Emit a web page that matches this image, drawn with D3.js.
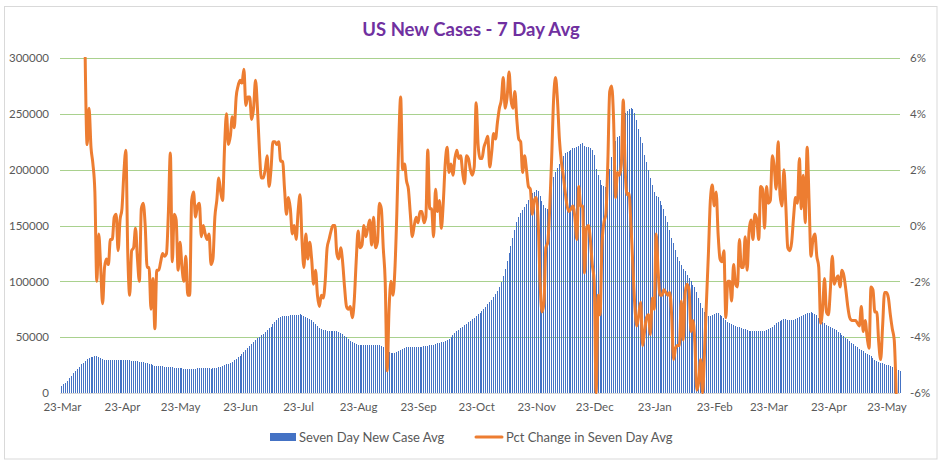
<!DOCTYPE html>
<html><head><meta charset="utf-8">
<script src="https://cdn.jsdelivr.net/npm/d3@7"></script>
<style>
body{margin:0;background:#fff;}
text{font-family:Lato,"Open Sans",sans-serif;}
</style></head>
<body><svg id="c" width="946" height="466"></svg>
<script>
const title = "US New Cases - 7 Day Avg";
const seriesNames = ["Seven Day New Case Avg", "Pct Change in Seven Day Avg"];
const startDate = "2020-03-23";
const endDate = "2021-05-31"; // exclusive
const leftTicks = [0, 50000, 100000, 150000, 200000, 250000, 300000];
const rightTicks = [-6, -4, -2, 0, 2, 4, 6];
const xTickLabels = ["23-Mar","23-Apr","23-May","23-Jun","23-Jul","23-Aug","23-Sep","23-Oct","23-Nov","23-Dec","23-Jan","23-Feb","23-Mar","23-Apr","23-May"];
const xTickDates = ["2020-03-23","2020-04-23","2020-05-23","2020-06-23","2020-07-23","2020-08-23","2020-09-23","2020-10-23","2020-11-23","2020-12-23","2021-01-23","2021-02-23","2021-03-23","2021-04-23","2021-05-23"];

// Seven day new case average, one value per day from 23-Mar-2020
const sevenDayAvg = [
6400,7800,9300,11000,13000,15200,17500,19700,21800,23700,
25600,27300,28800,30100,31100,31900,32600,33000,32900,32400,
31700,30600,29800,29500,29400,29400,29400,29400,29500,29600,
29800,29900,29900,29700,29400,29200,29000,28900,28800,28600,
28200,27900,27600,27300,26900,26300,25600,25000,24500,24200,
24000,23900,23800,23600,23300,23100,23000,22900,22800,22700,
22600,22400,22200,21900,21700,21600,21500,21500,21600,21900,
22300,22500,22400,22200,22100,22000,22000,21900,22000,22200,
22500,23000,23600,24300,25000,25600,26300,27200,28200,29300,
30500,31800,33000,34800,36800,38800,40500,42200,44000,45800,
47500,49000,50400,51800,52800,54200,56300,58000,59200,61500,
63800,65800,67500,68500,69000,69000,69200,69400,69700,69800,
69800,70000,70200,70600,70200,69000,68000,67200,66200,65200,
63800,62200,60300,58300,57200,56400,56000,55700,55500,55500,
55500,55500,55300,54800,53900,52700,51300,49900,48500,47000,
45600,44600,43800,43300,43100,43000,43000,43000,42900,42900,
43000,43000,42900,42900,42800,42200,41000,39500,37700,36300,
35800,35500,35800,36600,37800,38800,39700,40400,40900,41200,
41400,41500,41500,41500,41500,41500,41600,41700,41900,42200,
42600,43000,43400,43900,44400,44900,45400,46000,46600,47600,
48800,50000,51800,53600,55500,56500,57800,59000,60500,62000,
63200,64500,66000,67500,69000,70800,72000,73200,75000,77300,
79700,81300,83200,85800,88300,91500,94500,99000,104500,111000,
118000,125500,132000,138500,146000,153000,158000,161000,164000,166300,
169500,172500,176000,178700,180300,181800,181000,176500,172000,168000,
166000,164500,170000,184000,193500,197500,201500,205000,209000,212500,
214500,216000,217000,218000,219000,219500,220000,221300,223000,224100,
221500,220000,220000,219500,217600,213500,200500,195000,191000,186500,
185000,184500,193000,201000,211000,220000,225500,229000,230000,237000,
246000,250500,252700,254000,255000,254500,251000,244500,236000,229500,
223600,213000,206500,199500,192200,186000,180300,176500,175200,172000,
168300,165000,158500,153500,146000,139000,134000,128000,122000,118200,
114500,111000,109000,105500,103000,100500,97000,95000,90700,84800,
80300,75800,72800,71300,69000,69000,69700,70700,71300,71300,
69800,69000,67300,65600,64000,63000,62000,61000,60200,59500,
58800,58200,57500,57000,56300,55800,55500,55500,55500,55500,
55500,55500,55500,55500,56200,57000,57800,58800,60500,62500,
63500,64500,65300,66000,66000,65500,65400,65400,65600,66500,
67500,68300,69000,69700,70300,71200,72000,72300,71500,70800,
70000,67500,65500,63800,62500,61300,60200,59000,58000,57000,
56000,55000,53500,52000,51000,49500,48000,46500,45000,43500,
42200,41000,39700,38400,37200,36000,35000,34000,33000,31500,
30000,28700,27700,27000,26500,26000,25500,25000,24400,23600,
22700,21700,20500,19500
];

// Percent change in seven day average (%), same days; null where not plotted
const pctChange = [
null,null,null,null,null,null,null,null,null,null,null,null,
6.0,2.9,4.2,2.8,2.2,1.2,-2.0,-0.3,-1.5,-2.8,
-1.5,-1.2,-1.4,-0.5,-0.5,0.3,0.4,-0.9,0.2,0.6,
1.9,2.7,-1.0,-2.5,-0.9,-0.8,-0.1,-1.2,-2.0,0.6,
0.8,0.0,-1.5,-1.5,-3.0,-1.9,-3.7,-1.6,-1.6,-1.3,
-1.0,-1.1,-1.0,0.5,2.6,-1.3,0.4,0.2,-1.6,-0.6,
-1.5,-2.0,-1.1,-2.5,-2.5,0.9,1.2,0.3,0.7,0.8,
-0.4,0.0,-0.3,-0.5,-0.3,-1.4,-1.2,0.3,0.9,1.7,
1.2,0.9,2.8,4.0,2.9,3.2,3.9,3.5,4.6,5.0,
5.2,5.1,5.6,4.3,4.6,4.6,3.8,4.2,5.2,4.2,
2.7,1.7,1.7,2.0,2.5,1.4,2.0,3.0,3.0,2.9,
3.0,2.3,2.3,1.3,0.4,1.0,0.6,-0.3,0.0,-0.5,
0.5,1.1,-0.5,-1.5,-0.3,-1.2,-0.6,-1.2,-2.1,-1.6,
-2.5,-2.9,-2.5,-2.6,-2.0,-0.8,-0.5,-0.2,0.0,0.0,
-1.0,-1.2,-0.8,-1.3,-2.2,-2.9,-3.0,-2.9,-3.3,-2.7,
-1.3,-0.2,-0.8,-0.7,0.0,-0.4,-0.1,0.2,-0.7,0.3,
-0.8,-0.6,0.8,0.6,-0.8,-2.0,-5.2,-3.0,-2.0,-2.5,
-1.6,0.4,3.0,4.6,2.0,2.2,1.6,1.3,0.4,-0.4,
0.0,0.3,0.1,0.5,0.5,0.1,0.3,2.7,0.6,0.6,
-0.4,1.3,0.5,0.9,-0.1,0.8,2.2,2.8,1.9,2.2,
1.8,2.4,2.7,2.4,2.5,1.9,1.5,2.5,2.4,2.0,
1.8,2.1,4.4,2.9,2.4,2.4,2.8,3.0,3.2,2.1,
2.6,3.3,3.1,3.7,4.2,4.5,5.3,4.2,4.6,5.5,
4.5,4.2,4.8,3.8,3.1,3.0,1.9,2.5,2.0,1.4,
1.3,0.4,0.9,1.0,0.2,-2.0,-3.1,-2.8,-0.8,-0.6,
0.6,2.4,4.5,5.3,4.5,3.1,2.3,1.8,1.2,0.7,
0.5,0.6,0.7,0.3,-0.5,1.4,0.7,0.7,-1.7,-0.1,
0.0,-0.5,-1.4,-2.0,-6.0,-2.5,-3.2,-0.7,0.1,0.4,
2.2,4.8,5.0,3.8,1.0,1.9,1.8,2.2,4.5,2.0,
1.1,1.15,0.0,-1.5,-2.9,-3.6,-3.2,-2.75,-4.3,-3.8,
-3.3,-3.2,-3.9,-2.6,-3.0,-0.3,-1.6,-2.5,-2.5,-2.3,
-2.4,-2.5,-2.4,-3.2,-4.8,-4.4,-4.3,-4.3,-2.7,-4.1,
-2.4,-2.1,-2.3,-3.8,-3.4,-4.2,-5.9,-5.6,-4.8,-6.0,
-4.5,-2.7,-1.0,0.9,1.45,0.7,1.2,-0.3,-1.2,-1.3,
-0.9,-3.3,-2.0,-2.0,-2.7,-1.4,-2.1,-2.2,-0.5,-1.5,
-1.5,-0.4,-1.6,-0.2,0.2,-0.5,0.4,0.2,-0.5,1.4,
1.3,-0.1,1.4,0.8,0.9,2.5,2.1,1.3,3.0,1.1,
0.7,2.0,0.7,-0.8,-0.9,-0.6,0.3,1.0,0.8,2.4,
0.6,1.8,0.1,2.8,0.9,-1.1,-0.5,-0.3,-1.1,-1.5,
-3.5,-3.0,-1.9,-3.1,-3.2,-2.3,-1.1,-2.1,-1.9,-1.8,
-2.2,-1.6,-1.8,-2.3,-2.9,-3.3,-3.4,-3.4,-3.4,-3.5,
-3.6,-2.9,-3.8,-3.4,-4.0,-4.4,-2.2,-2.3,-3.1,-3.1,
-4.2,-4.8,-3.6,-2.4,-2.4,-2.6,-3.2,-3.7,-4.1,-6.0,
null,null
];

const parse = d3.utcParse("%Y-%m-%d");
const dates = d3.utcDay.range(parse(startDate), parse(endDate));
const data = dates.map((d, i) => ({date: d, avg: sevenDayAvg[i], pct: pctChange[i]}));

const plot = {left: 61, right: 901, top: 58, bottom: 393};
const svg = d3.select("#c");

svg.append("rect").attr("x", 4.5).attr("y", 6.5).attr("width", 932.5).attr("height", 452.5)
  .attr("fill", "#fff").attr("stroke", "#D9D9D9").attr("stroke-width", 1);

const half = 12 * 3600 * 1000;
const x = d3.scaleUtc()
  .domain([new Date(dates[0].getTime() - half), new Date(dates[dates.length - 1].getTime() + half)])
  .range([plot.left, plot.right]);
const yL = d3.scaleLinear().domain([0, 300000]).range([plot.bottom, plot.top]);
const yR = d3.scaleLinear().domain([-6, 6]).range([plot.bottom, plot.top]);

// gridlines
svg.append("g").selectAll("line").data(leftTicks.filter(t => t > 0)).join("line")
  .attr("x1", plot.left - 1).attr("x2", plot.right - 1)
  .attr("y1", d => Math.round(yL(d)) + 0.5).attr("y2", d => Math.round(yL(d)) + 0.5)
  .attr("stroke", "#A9D18E").attr("stroke-width", 1);

// bars
svg.append("g").attr("shape-rendering", "crispEdges").selectAll("rect").data(data).join("rect")
  .attr("x", d => Math.round(x(d.date) - 0.5))
  .attr("width", 1)
  .attr("y", d => yL(d.avg))
  .attr("height", d => yL(0) - yL(d.avg))
  .attr("fill", "#4472C4");

// baseline
svg.append("line").attr("x1", plot.left - 1).attr("x2", plot.right - 1)
  .attr("y1", plot.bottom + 0.5).attr("y2", plot.bottom + 0.5)
  .attr("stroke", "#D9D9D9").attr("stroke-width", 1);

// line
svg.append("clipPath").attr("id", "clip").append("rect")
  .attr("x", plot.left - 5).attr("y", plot.top - 1).attr("width", plot.right - plot.left + 10).attr("height", plot.bottom - plot.top + 2);
const line = d3.line().defined(d => d.pct != null)
  .x(d => x(d.date)).y(d => yR(d.pct)).curve(d3.curveMonotoneX);
svg.append("path").datum(data).attr("d", line).attr("clip-path", "url(#clip)")
  .attr("fill", "none").attr("stroke", "#ED7D31").attr("stroke-width", 3)
  .attr("stroke-linejoin", "round").attr("stroke-linecap", "round");

// axes
const axL = d3.axisLeft(yL).tickValues(leftTicks).tickSize(0).tickPadding(0).tickFormat(d3.format("d"));
const gL = svg.append("g").attr("transform", `translate(49,0)`).call(axL);
const axR = d3.axisRight(yR).tickValues(rightTicks).tickSize(0).tickPadding(0).tickFormat(d => d + "%");
const gR = svg.append("g").attr("transform", `translate(910,0)`).call(axR);
const tickDates = xTickDates.map(parse);
const axB = d3.axisBottom(x).tickValues(tickDates).tickSize(0).tickPadding(0)
  .tickFormat((d, i) => xTickLabels[i]);
const gB = svg.append("g").attr("transform", `translate(0,${plot.bottom + 10})`).call(axB);
[gL, gR, gB].forEach(g => {
  g.select(".domain").remove();
  g.selectAll("text").attr("fill", "#595959").style("font-size", "11.5px").style("font-family", "Lato, sans-serif");
});

// title
svg.append("text").attr("x", 471).attr("y", 36).attr("text-anchor", "middle")
  .style("font-size", "18.5px").style("font-weight", "bold").attr("fill", "#7030A0").text(title);

// legend
svg.append("rect").attr("x", 270).attr("y", 433).attr("width", 26).attr("height", 8).attr("fill", "#4472C4");
svg.append("text").attr("x", 299).attr("y", 441.5).attr("fill", "#595959").style("font-size", "13px").text(seriesNames[0]);
svg.append("line").attr("x1", 476).attr("x2", 502).attr("y1", 437).attr("y2", 437)
  .attr("stroke", "#ED7D31").attr("stroke-width", 3).attr("stroke-linecap", "round");
svg.append("text").attr("x", 506).attr("y", 441.5).attr("fill", "#595959").style("font-size", "13px").text(seriesNames[1]);
</script></body></html>
